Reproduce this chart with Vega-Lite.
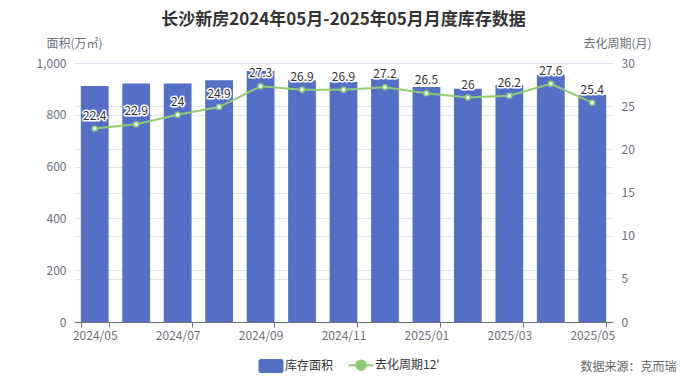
{
  "$schema": "https://vega.github.io/schema/vega-lite/v6.json",
  "width": 539,
  "height": 259,
  "autosize": "none",
  "padding": {"left": 74, "top": 63, "right": 74, "bottom": 60},
  "background": "#ffffff",
  "config": {
    "font": "Noto Sans CJK SC",
    "view": {"stroke": null}
  },
  "title": {
    "text": "长沙新房2024年05月-2025年05月月度库存数据",
    "fontSize": 17,
    "fontWeight": "bold",
    "color": "#333333",
    "anchor": "middle",
    "offset": 8
  },
  "data": {
    "values": [
      {"month": "2024/05", "area": 911, "period": 22.4},
      {"month": "2024/06", "area": 921, "period": 22.9},
      {"month": "2024/07", "area": 921, "period": 24},
      {"month": "2024/08", "area": 933, "period": 24.9},
      {"month": "2024/09", "area": 969, "period": 27.3},
      {"month": "2024/10", "area": 933, "period": 26.9},
      {"month": "2024/11", "area": 927, "period": 26.9},
      {"month": "2024/12", "area": 940, "period": 27.2},
      {"month": "2025/01", "area": 907, "period": 26.5},
      {"month": "2025/02", "area": 901, "period": 26},
      {"month": "2025/03", "area": 915, "period": 26.2},
      {"month": "2025/04", "area": 955, "period": 27.6},
      {"month": "2025/05", "area": 876, "period": 25.4}
    ]
  },
  "encoding": {
    "x": {
      "field": "month",
      "type": "ordinal",
      "sort": null,
      "scale": {"paddingInner": 0.33, "paddingOuter": 0.165},
      "axis": {
        "values": ["2024/05", "2024/07", "2024/09", "2024/11", "2025/01", "2025/03", "2025/05"],
        "tickBand": "extent",
        "labelAngle": 0,
        "labelColor": "#6e7079",
        "labelFontSize": 12,
        "labelPadding": 3,
        "domainColor": "#6e7079",
        "tickColor": "#6e7079",
        "tickSize": 5,
        "grid": false,
        "title": "数据来源：克而瑞",
        "titleX": 602,
        "titleY": 44,
        "titleAlign": "right",
        "titleBaseline": "middle",
        "titleAnchor": null,
        "titleFontWeight": "normal",
        "titleFontSize": 12,
        "titleColor": "#666666"
      }
    }
  },
  "layer": [
    {
      "mark": {"type": "bar", "fill": "#5470c6"},
      "encoding": {
        "y": {
          "field": "area",
          "type": "quantitative",
          "scale": {"domain": [0, 1000], "nice": false},
          "axis": {
            "orient": "left",
            "values": [0, 200, 400, 600, 800, 1000],
            "format": ",.0f",
            "domain": false,
            "ticks": false,
            "grid": true,
            "gridColor": "#e0e6f1",
            "labelColor": "#6e7079",
            "labelFontSize": 12,
            "labelPadding": 8,
            "title": "面积(万㎡)",
            "titleAngle": 0,
            "titleX": 0,
            "titleY": -20,
            "titleAlign": "center",
            "titleBaseline": "middle",
            "titleFontWeight": "normal",
            "titleFontSize": 12,
            "titleColor": "#6e7079"
          }
        },
        "color": {
          "datum": "库存面积",
          "type": "nominal",
          "scale": {"domain": ["库存面积", "去化周期12'"], "range": ["#5470c6", "#91cc75"]},
          "legend": {
            "orient": "none",
            "legendX": 191,
            "legendY": 296,
            "direction": "horizontal",
            "title": null,
            "labelFontSize": 12,
            "labelColor": "#333333",
            "labelOffset": 8,
            "columnPadding": 10,
            "symbolSize": 625,
            "symbolStrokeWidth": 2,
            "encode": {
              "symbols": {
                "update": {
                  "shape": {"signal": "datum.value === '库存面积' ? 'M-0.8,-0.56 L0.8,-0.56 Q1,-0.56 1,-0.36 L1,0.36 Q1,0.56 0.8,0.56 L-0.8,0.56 Q-1,0.56 -1,0.36 L-1,-0.36 Q-1,-0.56 -0.8,-0.56 Z' : 'M-1,0 L-0.38,0 M0.38,0 L1,0 M0.38,0 A0.38,0.38 0 1,1 -0.38,0 A0.38,0.38 0 1,1 0.38,0'"},
                  "fill": {"signal": "datum.value === '库存面积' ? '#5470c6' : '#ffffff'"},
                  "stroke": {"signal": "datum.value === '库存面积' ? '#5470c6' : '#91cc75'"},
                  "strokeWidth": {"signal": "datum.value === '库存面积' ? 0 : 2"},
                  "opacity": {"value": 1}
                }
              }
            }
          }
        }
      }
    },
    {
      "encoding": {
        "y": {
          "field": "period",
          "type": "quantitative",
          "scale": {"domain": [0, 30], "nice": false},
          "axis": {
            "orient": "right",
            "values": [0, 5, 10, 15, 20, 25, 30],
            "domain": false,
            "ticks": false,
            "grid": true,
            "gridColor": "#e0e6f1",
            "labelColor": "#6e7079",
            "labelFontSize": 12,
            "labelPadding": 8,
            "title": "去化周期(月)",
            "titleAngle": 0,
            "titleX": 4,
            "titleY": -20,
            "titleAlign": "center",
            "titleBaseline": "middle",
            "titleFontWeight": "normal",
            "titleFontSize": 12,
            "titleColor": "#6e7079"
          }
        }
      },
      "layer": [
        {
          "mark": {"type": "line", "strokeWidth": 2},
          "encoding": {
            "color": {"datum": "去化周期12'", "type": "nominal"}
          }
        },
        {
          "mark": {"type": "point", "filled": true, "fill": "#ffffff", "stroke": "#91cc75", "strokeWidth": 1.5, "size": 24, "opacity": 1},
          "encoding": {}
        },
        {
          "mark": {"type": "text", "baseline": "bottom", "dy": -6, "fontSize": 12, "fill": "#ffffff", "stroke": "#ffffff", "strokeWidth": 3, "strokeJoin": "round"},
          "encoding": {"text": {"field": "period", "type": "quantitative"}}
        },
        {
          "mark": {"type": "text", "baseline": "bottom", "dy": -6, "fontSize": 12, "fill": "#333333"},
          "encoding": {"text": {"field": "period", "type": "quantitative"}}
        }
      ]
    }
  ],
  "resolve": {"scale": {"y": "independent"}}
}
